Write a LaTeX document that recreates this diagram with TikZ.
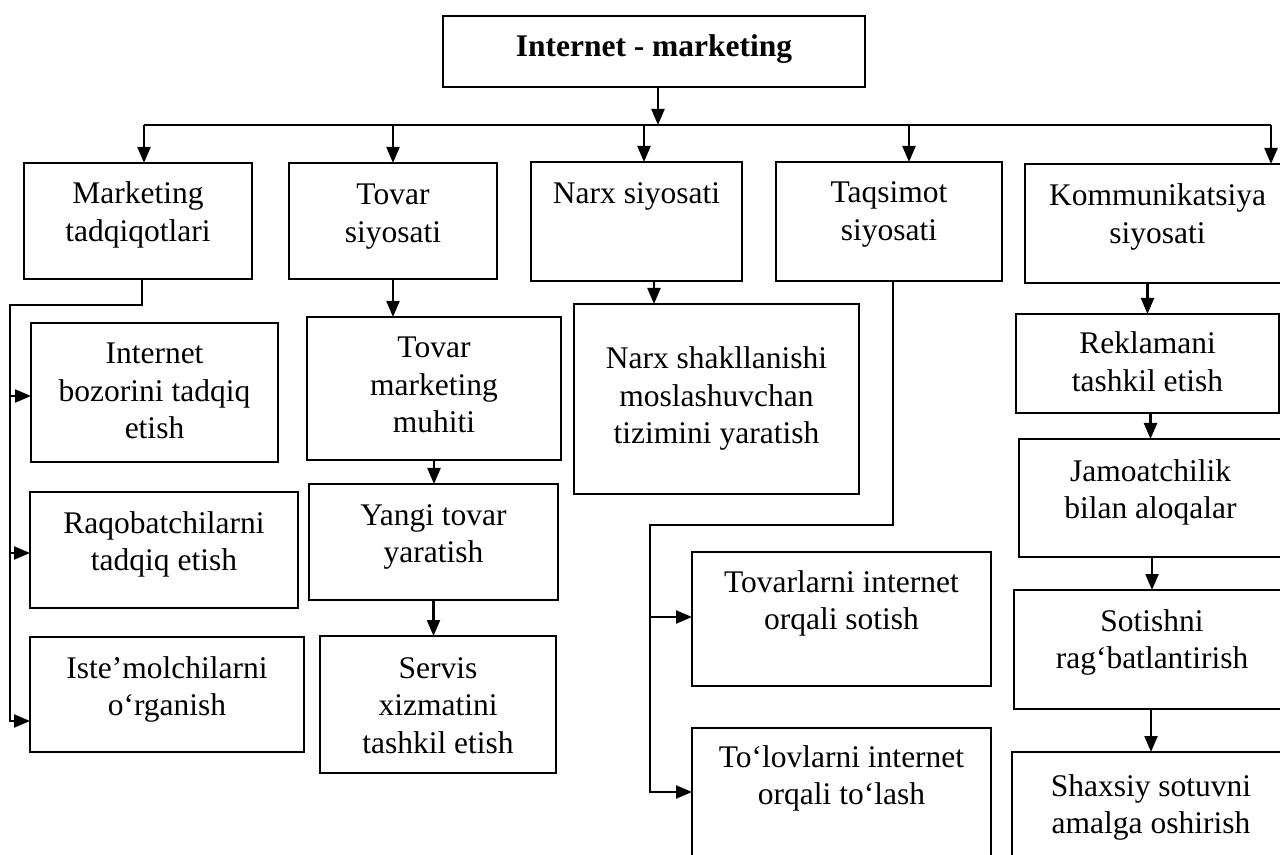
\documentclass[tikz,border=0pt]{standalone}
\usepackage{fontspec}
\setmainfont{Liberation Serif}
\usetikzlibrary{arrows.meta}
\newcommand\tl[1]{\begin{tabular}[t]{@{}c@{}}#1\end{tabular}}
\newcommand\bx[5]{\node[box, minimum width={(#4-(#2))*0.5pt}, minimum height={(#5-(#3))*0.5pt}] (#1) at ({(#2+#4)/2},{(#3+#5)/2}) {};}
\begin{document}
\begin{tikzpicture}[x=0.5pt,y=-0.5pt,
  box/.style={draw, line width=0.7pt, inner sep=0pt, outer sep=0pt},
  conn/.style={line width=1.1pt},
  arr/.style={conn, -{Triangle[length=8pt,width=6.5pt]}},
  txt/.style={anchor=base, inner sep=0pt, font=\fontsize{15.75pt}{18.75pt}\selectfont}]
\useasboundingbox (0,0) rectangle (1280,855);
\clip (0,0) rectangle (1280,855);
% boxes
\bx{top}{443}{16}{865}{87}
\bx{mk}{24}{163}{252}{279}
\bx{tv}{289}{163}{497}{279}
\bx{nx}{531}{162}{742}{281}
\bx{tq}{776}{162}{1002}{281}
\bx{km}{1025}{164}{1290}{283}
\bx{ib}{31}{323}{278}{462}
\bx{rq}{30}{492}{298}{608}
\bx{is}{30}{637}{304}{752}
\bx{tm}{307}{317}{561}{460}
\bx{yt}{309}{484}{558}{600}
\bx{sv}{320}{636}{556}{773}
\bx{ns}{574}{304}{859}{494}
\bx{tw}{692}{552}{991}{686}
\bx{tp}{692}{728}{991}{900}
\bx{rk}{1016}{314}{1279}{413}
\bx{jm}{1019}{439}{1282}{557}
\bx{so}{1014}{590}{1290}{709}
\bx{sh}{1012}{752}{1290}{900}
% texts
\node[txt] (top-t) at (top.north |- 0,57) {\textbf{Internet - marketing}};
\node[txt] (mk-t) at (mk.north |- 0,204) {\tl{Marketing\\tadqiqotlari}};
\node[txt] (tv-t) at (tv.north |- 0,205) {\tl{Tovar\\siyosati}};
\node[txt] (nx-t) at (nx.north |- 0,204) {\tl{Narx siyosati}};
\node[txt] (tq-t) at (tq.north |- 0,203) {\tl{Taqsimot\\siyosati}};
\node[txt] (km-t) at (km.north |- 0,206) {\tl{Kommunikatsiya\\siyosati}};
\node[txt] (ib-t) at (ib.north |- 0,364) {\tl{Internet\\bozorini tadqiq\\etish}};
\node[txt] (rq-t) at (rq.north |- 0,533) {\tl{Raqobatchilarni\\tadqiq etish}};
\node[txt] (is-t) at (is.north |- 0,678) {\tl{Iste’molchilarni\\o‘rganish}};
\node[txt] (tm-t) at (tm.north |- 0,358) {\tl{Tovar\\marketing\\muhiti}};
\node[txt] (yt-t) at (yt.north |- 0,525) {\tl{Yangi tovar\\yaratish}};
\node[txt] (sv-t) at (sv.north |- 0,678) {\tl{Servis\\xizmatini\\tashkil etish}};
\node[txt] (ns-t) at (ns.north |- 0,369) {\tl{Narx shakllanishi\\moslashuvchan\\tizimini yaratish}};
\node[txt] (tw-t) at (tw.north |- 0,592) {\tl{Tovarlarni internet\\orqali sotish}};
\node[txt] (tp-t) at (tp.north |- 0,767) {\tl{To‘lovlarni internet\\orqali to‘lash}};
\node[txt] (rk-t) at (rk.north |- 0,354) {\tl{Reklamani\\tashkil etish}};
\node[txt] (jm-t) at (jm.north |- 0,481) {\tl{Jamoatchilik\\bilan aloqalar}};
\node[txt] (so-t) at (so.north |- 0,631) {\tl{Sotishni\\rag‘batlantirish}};
\node[txt] (sh-t) at (sh.north |- 0,796) {\tl{Shaxsiy sotuvni\\amalga oshirish}};
% bus
\coordinate (b0) at (658,125);
\coordinate (b1) at (144,125);
\coordinate (b2) at (393,125);
\coordinate (b3) at (644,125);
\coordinate (b4) at (909,125);
\coordinate (b5) at (1271,125);
\draw[arr] (b0 |- top.south) -- (b0);
\draw[conn] (b1) -- (b5);
\draw[arr] (b1) -- (b1 |- mk.north);
\draw[arr] (b2) -- (b2 |- tv.north);
\draw[arr] (b3) -- (b3 |- nx.north);
\draw[arr] (b4) -- (b4 |- tq.north);
\draw[arr] (b5) -- (b5 |- km.north);
% marketing branch
\coordinate (m1) at (142,305);
\coordinate (m2) at (10,305);
\coordinate (m3) at (10,721);
\coordinate (a1) at (10,396);
\coordinate (a2) at (10,553);
\draw[arr] (m1 |- mk.south) -- (m1) -- (m2) -- (m3) -- (m3 -| is.west);
\draw[arr] (a1) -- (a1 -| ib.west);
\draw[arr] (a2) -- (a2 -| rq.west);
% tovar branch
\draw[arr] (tv.south) -- (tv.south |- tm.north);
\draw[arr] (tm.south) -- (tm.south |- yt.north);
\draw[arr] (yt.south) -- (yt.south |- sv.north);
% narx branch
\coordinate (n1) at (654,281);
\draw[arr] (n1) -- (n1 |- ns.north);
% taqsimot branch
\coordinate (t1) at (893,525);
\coordinate (t2) at (650,525);
\coordinate (t3) at (650,792);
\coordinate (t4) at (650,617);
\draw[arr] (t1 |- tq.south) -- (t1) -- (t2) -- (t3) -- (t3 -| tp.west);
\draw[arr] (t4) -- (t4 -| tw.west);
% kommunikatsiya branch
\draw[arr] (rk.north |- km.south) -- (rk.north);
\draw[arr] (jm.north |- rk.south) -- (jm.north);
\draw[arr] (so.north |- jm.south) -- (so.north);
\draw[arr] (sh.north |- so.south) -- (sh.north);
\end{tikzpicture}
\end{document}
